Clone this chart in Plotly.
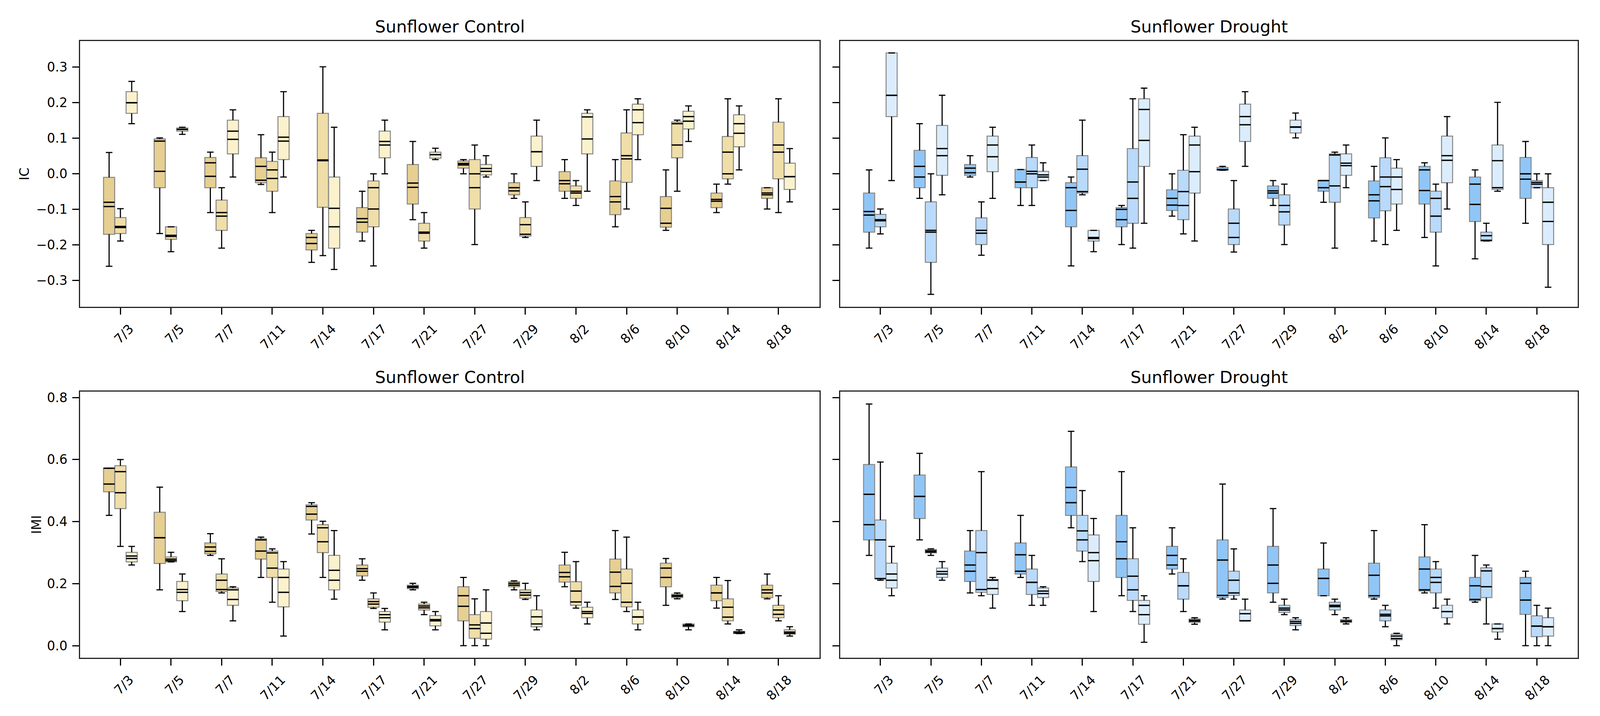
import plotly.graph_objects as go

DATES = ["7/3", "7/5", "7/7", "7/11", "7/14", "7/17", "7/21",
         "7/27", "7/29", "8/2", "8/6", "8/10", "8/14", "8/18"]

# each entry per date: (lower whisker, q1, median, mean, q3, upper whisker)
IC_CONTROL_A = [(-0.26, -0.17, -0.092, -0.08, -0.01, 0.06), (-0.168, -0.039, 0.007, 0.092, 0.098, 0.101),
                (-0.109, -0.039, -0.007, 0.031, 0.046, 0.061), (-0.030, -0.025, -0.018, 0.021, 0.045, 0.110),
                (-0.249, -0.214, -0.196, -0.179, -0.168, -0.159), (-0.189, -0.164, -0.136, -0.126, -0.095, -0.049),
                (-0.129, -0.085, -0.038, -0.026, 0.026, 0.091), (0.0, 0.016, 0.025, 0.029, 0.036, 0.040),
                (-0.069, -0.059, -0.048, -0.039, -0.025, 0.0), (-0.069, -0.049, -0.028, -0.019, 0.006, 0.040),
                (-0.149, -0.115, -0.079, -0.064, -0.020, 0.040), (-0.159, -0.150, -0.139, -0.097, -0.064, 0.011),
                (-0.109, -0.095, -0.077, -0.072, -0.054, -0.029), (-0.099, -0.069, -0.059, -0.054, -0.039, -0.039)]
IC_CONTROL_B = [(-0.189, -0.168, -0.151, -0.148, -0.123, -0.098), (-0.219, -0.184, -0.176, -0.173, -0.149, -0.149),
                (-0.209, -0.159, -0.119, -0.109, -0.074, -0.039), (-0.109, -0.049, -0.013, 0.011, 0.035, 0.061),
                (-0.230, -0.094, 0.037, 0.039, 0.170, 0.301), (-0.259, -0.149, -0.099, -0.039, -0.020, 0.0),
                (-0.209, -0.189, -0.167, -0.164, -0.139, -0.109), (-0.199, -0.099, -0.039, 0.0, 0.040, 0.081),
                (-0.179, -0.175, -0.170, -0.143, -0.123, -0.079), (-0.089, -0.069, -0.054, -0.049, -0.034, -0.019),
                (-0.099, -0.024, 0.042, 0.051, 0.115, 0.180), (-0.049, 0.045, 0.081, 0.141, 0.146, 0.151),
                (-0.029, -0.014, 0.0, 0.061, 0.105, 0.211), (-0.109, -0.014, 0.061, 0.081, 0.145, 0.211)]
IC_CONTROL_C = [(0.141, 0.170, 0.200, 0.200, 0.231, 0.260), (0.111, 0.120, 0.125, 0.125, 0.129, 0.131),
                (-0.009, 0.056, 0.097, 0.120, 0.151, 0.180), (-0.009, 0.040, 0.092, 0.103, 0.161, 0.231),
                (-0.269, -0.209, -0.149, -0.097, -0.009, 0.131), (0.0, 0.045, 0.081, 0.091, 0.120, 0.151),
                (0.040, 0.044, 0.054, 0.054, 0.061, 0.072), (-0.009, -0.003, 0.007, 0.015, 0.026, 0.051),
                (-0.019, 0.021, 0.062, 0.062, 0.106, 0.151), (-0.049, 0.056, 0.098, 0.160, 0.170, 0.180),
                (0.040, 0.110, 0.144, 0.180, 0.196, 0.211), (0.091, 0.126, 0.148, 0.161, 0.176, 0.191),
                (0.011, 0.076, 0.114, 0.141, 0.166, 0.191), (-0.079, -0.044, -0.008, -0.008, 0.030, 0.071)]

IC_DROUGHT_A = [(-0.209, -0.164, -0.116, -0.106, -0.054, 0.011), (-0.069, -0.039, -0.009, 0.021, 0.066, 0.141),
                (-0.009, -0.004, 0.003, 0.016, 0.026, 0.051), (-0.089, -0.039, -0.023, -0.023, 0.012, 0.012),
                (-0.259, -0.149, -0.103, -0.039, -0.025, -0.009), (-0.199, -0.149, -0.129, -0.100, -0.095, -0.089),
                (-0.119, -0.103, -0.088, -0.069, -0.045, 0.0), (0.010, 0.010, 0.012, 0.012, 0.018, 0.021),
                (-0.089, -0.069, -0.054, -0.048, -0.034, -0.019), (-0.080, -0.049, -0.039, -0.019, -0.019, -0.019),
                (-0.189, -0.124, -0.076, -0.059, -0.020, 0.021), (-0.179, -0.085, -0.047, 0.011, 0.021, 0.031),
                (-0.239, -0.134, -0.086, -0.029, -0.009, 0.011), (-0.139, -0.069, -0.015, 0.0, 0.046, 0.091)]
IC_DROUGHT_B = [(-0.169, -0.149, -0.132, -0.129, -0.114, -0.099), (-0.339, -0.249, -0.164, -0.159, -0.079, 0.0),
                (-0.229, -0.199, -0.167, -0.159, -0.124, -0.079), (-0.089, -0.039, 0.0, 0.007, 0.046, 0.081),
                (-0.059, -0.054, -0.050, 0.013, 0.051, 0.151), (-0.209, -0.139, -0.069, -0.023, 0.071, 0.211),
                (-0.169, -0.129, -0.089, -0.050, 0.010, 0.110), (-0.220, -0.199, -0.179, -0.139, -0.099, -0.019),
                (-0.199, -0.144, -0.107, -0.089, -0.059, -0.029), (-0.209, -0.080, -0.034, 0.053, 0.056, 0.061),
                (-0.199, -0.104, -0.036, -0.009, 0.045, 0.101), (-0.259, -0.164, -0.119, -0.069, -0.049, -0.029),
                (-0.189, -0.189, -0.187, -0.174, -0.164, -0.139), (-0.039, -0.039, -0.029, -0.024, -0.019, 0.0)]
IC_DROUGHT_C = [(-0.019, 0.161, 0.221, 0.221, 0.340, 0.340), (-0.059, -0.004, 0.051, 0.071, 0.136, 0.221),
                (-0.069, 0.006, 0.048, 0.081, 0.106, 0.131), (-0.019, -0.019, -0.009, -0.003, 0.007, 0.031),
                (-0.219, -0.189, -0.182, -0.179, -0.159, -0.159), (-0.139, 0.021, 0.094, 0.181, 0.211, 0.241),
                (-0.189, -0.054, 0.006, 0.081, 0.106, 0.131), (0.021, 0.091, 0.138, 0.161, 0.196, 0.231),
                (0.101, 0.115, 0.131, 0.132, 0.151, 0.171), (-0.039, -0.004, 0.023, 0.030, 0.056, 0.081),
                (-0.159, -0.085, -0.044, -0.009, 0.016, 0.040), (-0.099, -0.025, 0.038, 0.051, 0.106, 0.161),
                (-0.049, -0.044, -0.039, 0.037, 0.081, 0.201), (-0.319, -0.199, -0.134, -0.080, -0.039, 0.0)]

IMI_CONTROL_A = [(0.420, 0.496, 0.521, 0.572, 0.572, 0.572), (0.180, 0.265, 0.348, 0.348, 0.430, 0.511),
                 (0.291, 0.296, 0.304, 0.318, 0.331, 0.361), (0.220, 0.279, 0.305, 0.341, 0.345, 0.350),
                 (0.360, 0.405, 0.424, 0.449, 0.454, 0.461), (0.211, 0.225, 0.240, 0.248, 0.260, 0.280),
                 (0.180, 0.184, 0.188, 0.191, 0.195, 0.201), (0.0, 0.080, 0.127, 0.161, 0.190, 0.220),
                 (0.180, 0.190, 0.195, 0.201, 0.206, 0.209), (0.190, 0.205, 0.222, 0.236, 0.260, 0.301),
                 (0.149, 0.170, 0.191, 0.237, 0.279, 0.371), (0.130, 0.190, 0.220, 0.250, 0.266, 0.281),
                 (0.121, 0.145, 0.170, 0.170, 0.195, 0.220), (0.151, 0.155, 0.170, 0.180, 0.195, 0.231)]
IMI_CONTROL_B = [(0.320, 0.442, 0.493, 0.561, 0.580, 0.600), (0.270, 0.270, 0.274, 0.279, 0.286, 0.301),
                 (0.170, 0.175, 0.181, 0.211, 0.231, 0.280), (0.140, 0.220, 0.250, 0.299, 0.305, 0.312),
                 (0.220, 0.300, 0.335, 0.380, 0.390, 0.401), (0.120, 0.124, 0.134, 0.142, 0.151, 0.170),
                 (0.100, 0.115, 0.122, 0.128, 0.134, 0.140), (0.0, 0.024, 0.055, 0.067, 0.100, 0.151),
                 (0.149, 0.153, 0.163, 0.171, 0.180, 0.201), (0.121, 0.130, 0.141, 0.176, 0.206, 0.271),
                 (0.110, 0.125, 0.140, 0.201, 0.247, 0.350), (0.151, 0.155, 0.159, 0.162, 0.166, 0.170),
                 (0.070, 0.080, 0.092, 0.124, 0.151, 0.210), (0.080, 0.090, 0.101, 0.115, 0.130, 0.161)]
IMI_CONTROL_C = [(0.260, 0.270, 0.281, 0.289, 0.301, 0.320), (0.110, 0.145, 0.172, 0.181, 0.207, 0.231),
                 (0.080, 0.130, 0.149, 0.180, 0.186, 0.190), (0.031, 0.125, 0.172, 0.220, 0.247, 0.271),
                 (0.150, 0.180, 0.211, 0.243, 0.291, 0.371), (0.051, 0.076, 0.090, 0.100, 0.110, 0.120),
                 (0.051, 0.064, 0.080, 0.084, 0.097, 0.110), (0.0, 0.021, 0.040, 0.073, 0.110, 0.180),
                 (0.051, 0.061, 0.070, 0.093, 0.115, 0.161), (0.070, 0.090, 0.104, 0.110, 0.124, 0.140),
                 (0.051, 0.070, 0.092, 0.093, 0.115, 0.140), (0.051, 0.061, 0.064, 0.066, 0.070, 0.070),
                 (0.039, 0.039, 0.041, 0.044, 0.046, 0.051), (0.031, 0.037, 0.040, 0.044, 0.051, 0.061)]

IMI_DROUGHT_A = [(0.291, 0.341, 0.390, 0.488, 0.584, 0.779), (0.341, 0.410, 0.481, 0.481, 0.550, 0.620),
                 (0.170, 0.207, 0.240, 0.260, 0.305, 0.371), (0.220, 0.231, 0.240, 0.293, 0.331, 0.420),
                 (0.380, 0.420, 0.461, 0.510, 0.576, 0.691), (0.161, 0.220, 0.280, 0.335, 0.420, 0.561),
                 (0.231, 0.247, 0.260, 0.291, 0.320, 0.380), (0.150, 0.155, 0.162, 0.276, 0.341, 0.521),
                 (0.140, 0.170, 0.201, 0.260, 0.320, 0.442), (0.161, 0.161, 0.217, 0.217, 0.247, 0.331),
                 (0.150, 0.155, 0.161, 0.227, 0.266, 0.371), (0.170, 0.176, 0.180, 0.247, 0.286, 0.390),
                 (0.140, 0.145, 0.149, 0.193, 0.220, 0.291), (0.0, 0.101, 0.147, 0.201, 0.220, 0.240)]
IMI_DROUGHT_B = [(0.211, 0.216, 0.216, 0.341, 0.405, 0.592), (0.291, 0.299, 0.302, 0.306, 0.310, 0.312),
                 (0.161, 0.172, 0.181, 0.300, 0.371, 0.561), (0.130, 0.165, 0.204, 0.204, 0.247, 0.291),
                 (0.271, 0.305, 0.341, 0.370, 0.420, 0.500), (0.110, 0.146, 0.180, 0.224, 0.280, 0.380),
                 (0.110, 0.150, 0.193, 0.193, 0.236, 0.280), (0.150, 0.162, 0.170, 0.211, 0.240, 0.312),
                 (0.100, 0.107, 0.115, 0.121, 0.130, 0.150), (0.100, 0.115, 0.126, 0.130, 0.140, 0.150),
                 (0.061, 0.080, 0.096, 0.101, 0.115, 0.130), (0.121, 0.170, 0.204, 0.220, 0.247, 0.271),
                 (0.070, 0.155, 0.190, 0.241, 0.251, 0.260), (0.0, 0.029, 0.063, 0.063, 0.096, 0.130)]
IMI_DROUGHT_C = [(0.161, 0.186, 0.211, 0.231, 0.266, 0.320), (0.211, 0.220, 0.231, 0.239, 0.250, 0.271),
                 (0.121, 0.165, 0.184, 0.211, 0.214, 0.220), (0.130, 0.155, 0.168, 0.176, 0.186, 0.190),
                 (0.110, 0.207, 0.274, 0.300, 0.357, 0.410), (0.011, 0.069, 0.100, 0.130, 0.146, 0.161),
                 (0.069, 0.075, 0.079, 0.082, 0.086, 0.090), (0.080, 0.080, 0.080, 0.103, 0.115, 0.150),
                 (0.051, 0.065, 0.072, 0.078, 0.084, 0.090), (0.070, 0.075, 0.078, 0.080, 0.084, 0.090),
                 (0.0, 0.019, 0.023, 0.031, 0.037, 0.040), (0.070, 0.090, 0.110, 0.110, 0.130, 0.150),
                 (0.021, 0.044, 0.055, 0.055, 0.070, 0.070), (0.0, 0.031, 0.061, 0.061, 0.090, 0.121)]

CONTROL_COLORS = ["#e6cf91", "#f0dea8", "#fbf2cd"]
DROUGHT_COLORS = ["#90c6f7", "#b9dafb", "#dbedfd"]
PANEL_TITLES = ["Sunflower Control", "Sunflower Drought", "Sunflower Control", "Sunflower Drought"]
Y_LABELS = ["IC", "IMI"]

# geometry measured on the 4389 x 1832 reference, used as fractions
RW, RH = 4389, 1832
W, H = 4096, 1832
FONT = "DejaVu Sans"
OUTLINE = "#888888"
OFFSETS = [-0.223, 0.0, 0.223]
BOX_W = 0.22
CAP_HALF = 0.065

panels = [
    ("x", "y", [IC_CONTROL_A, IC_CONTROL_B, IC_CONTROL_C], CONTROL_COLORS),
    ("x2", "y2", [IC_DROUGHT_A, IC_DROUGHT_B, IC_DROUGHT_C], DROUGHT_COLORS),
    ("x3", "y3", [IMI_CONTROL_A, IMI_CONTROL_B, IMI_CONTROL_C], CONTROL_COLORS),
    ("x4", "y4", [IMI_DROUGHT_A, IMI_DROUGHT_B, IMI_DROUGHT_C], DROUGHT_COLORS),
]

fig = go.Figure()
for xa, ya, series, colors in panels:
    wx, wy, mx, my = [], [], [], []
    for s, data in enumerate(series):
        xs = [i + OFFSETS[s] for i in range(len(DATES))]
        lo = [d[0] for d in data]
        q1 = [d[1] for d in data]
        med = [d[2] for d in data]
        mean = [d[3] for d in data]
        q3 = [d[4] for d in data]
        hi = [d[5] for d in data]
        fig.add_trace(go.Box(
            x=xs, q1=q1, median=med, q3=q3, lowerfence=q1, upperfence=q3,
            width=BOX_W, whiskerwidth=0, fillcolor=colors[s],
            line=dict(color=OUTLINE, width=2.5), boxpoints=False,
            hoverinfo="skip", showlegend=False, xaxis=xa, yaxis=ya))
        for x, a, b, c, d, e, f in zip(xs, lo, q1, med, mean, q3, hi):
            wx += [x, x, None, x - CAP_HALF, x + CAP_HALF, None,
                   x, x, None, x - CAP_HALF, x + CAP_HALF, None]
            wy += [e, f, None, f, f, None, a, b, None, a, a, None]
            mx += [x - BOX_W / 2, x + BOX_W / 2, None, x - BOX_W / 2, x + BOX_W / 2, None]
            my += [c, c, None, d, d, None]
    fig.add_trace(go.Scatter(x=wx, y=wy, mode="lines", line=dict(color="black", width=2.9),
                             hoverinfo="skip", showlegend=False, xaxis=xa, yaxis=ya))
    fig.add_trace(go.Scatter(x=mx, y=my, mode="lines", line=dict(color="black", width=3.4),
                             hoverinfo="skip", showlegend=False, xaxis=xa, yaxis=ya))

XL = [220 / RW, 2248 / RW]
XR = [2305 / RW, 4328 / RW]
YT = [1 - 785 / RH, 1 - 104.5 / RH]
YB = [1 - 1683 / RH, 1 - 1002 / RH]

tickfont = dict(family=FONT, size=33, color="black")


def xaxis(domain, anchor):
    return dict(domain=domain, anchor=anchor, range=[-0.794, 13.811],
                tickmode="array", tickvals=list(range(len(DATES))), ticktext=DATES,
                tickangle=-45, ticks="outside", ticklen=17, tickwidth=2.8, tickcolor="black",
                showline=True, linecolor="#222222", linewidth=2.8, mirror=True,
                showgrid=False, zeroline=False, tickfont=tickfont,
                ticklabelshift=24, ticklabelstandoff=4)


def yaxis(domain, anchor, rng, dtick, labels):
    return dict(domain=domain, anchor=anchor, range=rng, tick0=0, dtick=dtick,
                tickformat=".1f", ticks="outside", ticklen=17, tickwidth=2.8, tickcolor="black",
                showline=True, linecolor="#222222", linewidth=2.8, mirror=True,
                showgrid=False, zeroline=False, tickfont=tickfont,
                showticklabels=labels, ticklabelstandoff=6)


IC_RANGE = [-0.374, 0.374]
IMI_RANGE = [-0.039, 0.819]

annotations = []
title_pos = [((XL[0] + XL[1]) / 2, 1 - 68 / RH), ((XR[0] + XR[1]) / 2, 1 - 68 / RH),
             ((XL[0] + XL[1]) / 2, 1 - 965 / RH), ((XR[0] + XR[1]) / 2, 1 - 965 / RH)]
for t, (tx, ty) in zip(PANEL_TITLES, title_pos):
    annotations.append(dict(text=t, x=tx, y=ty, xref="paper", yref="paper",
                            xanchor="center", yanchor="middle", showarrow=False,
                            font=dict(family=FONT, size=43, color="black")))
annotations.append(dict(text=Y_LABELS[0], x=67 / RW, y=1 - 445 / RH, xref="paper", yref="paper",
                        xanchor="center", yanchor="middle", showarrow=False, textangle=-90,
                        font=dict(family=FONT, size=33, color="black")))
annotations.append(dict(text=Y_LABELS[1], x=100 / RW, y=1 - 1342 / RH, xref="paper", yref="paper",
                        xanchor="center", yanchor="middle", showarrow=False, textangle=-90,
                        font=dict(family=FONT, size=33, color="black")))

fig.update_layout(
    width=W, height=H, margin=dict(l=0, r=0, t=0, b=0, autoexpand=False),
    paper_bgcolor="white", plot_bgcolor="white", boxmode="overlay",
    xaxis=xaxis(XL, "y"), xaxis2=xaxis(XR, "y2"), xaxis3=xaxis(XL, "y3"), xaxis4=xaxis(XR, "y4"),
    yaxis=yaxis(YT, "x", IC_RANGE, 0.1, True), yaxis2=yaxis(YT, "x2", IC_RANGE, 0.1, False),
    yaxis3=yaxis(YB, "x3", IMI_RANGE, 0.2, True), yaxis4=yaxis(YB, "x4", IMI_RANGE, 0.2, False),
    annotations=annotations, font=dict(family=FONT, color="black"),
)

# fit the figure to the browser viewport (the page is shown in one window)
POST = """
var gd = document.getElementById('{plot_id}');
document.body.style.margin = '0';
document.body.style.overflow = 'hidden';
Plotly.relayout(gd, {width: window.innerWidth, height: window.innerHeight});
"""
fig.write_html("out.html", post_script=POST, config={"displayModeBar": False})
